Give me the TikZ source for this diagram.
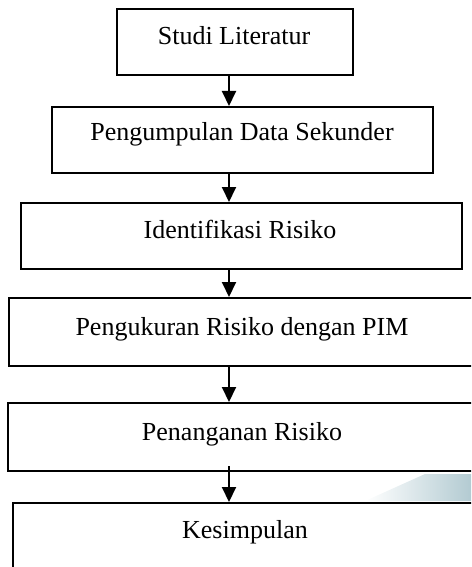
\documentclass[tikz,border=0pt]{standalone}
\usepackage{fontspec}
\setmainfont{Liberation Serif}
\usetikzlibrary{arrows.meta}
\definecolor{smear}{HTML}{B3CBD2}
\begin{document}
\begin{tikzpicture}[x=1pt,y=-1pt,
  box/.style={draw=black,line width=2pt,rectangle,inner sep=0pt,fill=none},
  lbl/.style={anchor=base,inner sep=0pt,font=\fontsize{26}{30}\selectfont},
  arr/.style={line width=2pt,-{Triangle[width=14pt,length=15pt]}}]
\useasboundingbox (0,0) rectangle (471,567);
\begin{scope}
\clip (0,0) rectangle (471,567);
% faint gradient smear
\shade[left color=white,right color=smear] (365,501) -- (471,501) -- (471,474) -- (425,474) -- cycle;
\node[box,minimum width=236pt,minimum height=66pt] (b1) at (235,42) {};
\node[box,minimum width=381pt,minimum height=66pt] (b2) at (242.5,140) {};
\node[box,minimum width=441pt,minimum height=66pt] (b3) at (241.5,236) {};
\node[box,minimum width=481pt,minimum height=68pt] (b4) at (249.5,332) {};
\node[box,minimum width=482pt,minimum height=68pt] (b5) at (249,437) {};
\node[box,minimum width=477pt,minimum height=100pt] (b6) at (251.5,553) {};
\end{scope}
\coordinate (ax) at (229,0);
\node[lbl] (t1) at (234,45) {Studi Literatur};
\node[lbl] (t2) at (242,140) {Pengumpulan Data Sekunder};
\node[lbl] (t3) at (240,238) {Identifikasi Risiko};
\node[lbl] (t4) at (242,335) {Pengukuran Risiko dengan PIM};
\node[lbl] (t5) at (242,440) {Penanganan Risiko};
\node[lbl] (t6) at (245,538) {Kesimpulan};
\draw[arr] (ax |- b1.south) -- (ax |- b2.north);
\draw[arr] (ax |- b2.south) -- (ax |- b3.north);
\draw[arr] (ax |- b3.south) -- (ax |- b4.north);
\draw[arr] (ax |- b4.south) -- (ax |- b5.north);
\draw[arr] ([yshift=6pt]ax |- b5.south) -- (ax |- b6.north);
\end{tikzpicture}
\end{document}
